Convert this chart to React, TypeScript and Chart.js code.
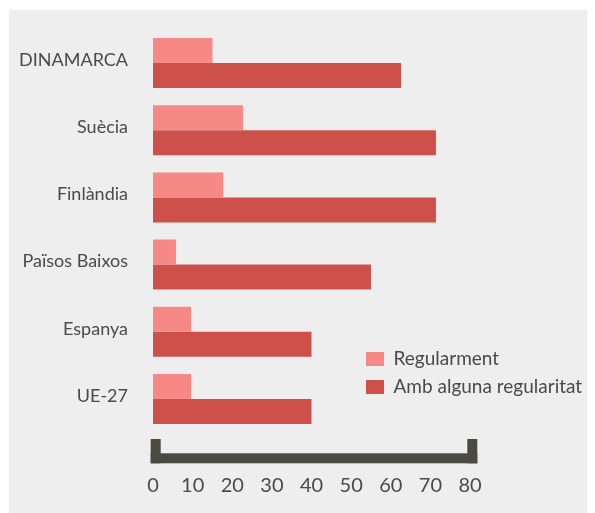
import React, { useEffect, useRef } from "react";
import { Chart, registerables } from "chart.js";

Chart.register(...registerables);

const categories = ["DINAMARCA", "Suècia", "Finlàndia", "Països Baixos", "Espanya", "UE-27"];
const regularment = [15, 22.7, 17.7, 5.8, 9.6, 9.6];
const ambAlgunaRegularitat = [62.6, 71.4, 71.4, 55, 40, 40];
const xTicks = [0, 10, 20, 30, 40, 50, 60, 70, 80];
const seriesNames = ["Regularment", "Amb alguna regularitat"];

const FONT = "Lato, 'Open Sans', sans-serif";
const TEXT = "#4a4a4a";

const bgPlugin = {
  id: "bgPanel",
  beforeDraw(chart: any) {
    const { ctx, width, height } = chart;
    ctx.save();
    ctx.fillStyle = "#eeeeee";
    ctx.fillRect(1, 2, width - 1, height - 2);
    ctx.restore();
  },
};

const legendPlace = {
  id: "legendPlace",
  afterLayout(chart: any) {
    const lg = chart.legend;
    if (!lg) return;
    lg.left = 349;
    lg.top = 332.5;
    lg.right = lg.left + 240;
    lg.bottom = lg.top + 200;
  },
};

const bracketPlugin = {
  id: "bracket",
  afterDraw(chart: any) {
    const { ctx } = chart;
    const xs = chart.scales.x;
    const x0 = xs.getPixelForValue(xTicks[0]);
    const x1 = xs.getPixelForValue(xTicks[xTicks.length - 1]);
    const left = x0 - 2.3;
    const right = x1 + 7.3;
    const yb = 455.3;
    ctx.save();
    ctx.fillStyle = "#4b4a42";
    ctx.fillRect(left, yb - 10, right - left, 10);
    ctx.fillRect(left, yb - 24.3, 10, 24.3);
    ctx.fillRect(right - 10, yb - 24.3, 10, 24.3);
    ctx.restore();
  },
};

export default function App() {
  const ref = useRef<HTMLCanvasElement | null>(null);
  useEffect(() => {
    if (!ref.current) return;
    const chart = new Chart(ref.current, {
      type: "bar",
      data: {
        labels: categories,
        datasets: [
          {
            label: seriesNames[0],
            data: regularment,
            backgroundColor: "#f68886",
            borderWidth: 0,
            categoryPercentage: 0.744,
            barPercentage: 1,
          },
          {
            label: seriesNames[1],
            data: ambAlgunaRegularitat,
            backgroundColor: "#cd514a",
            borderWidth: 0,
            categoryPercentage: 0.744,
            barPercentage: 1,
          },
        ],
      },
      options: {
        indexAxis: "y",
        animation: false,
        responsive: false,
        maintainAspectRatio: false,
        layout: { padding: { left: 0, right: 125, top: 21.4, bottom: 0 } },
        plugins: {
          legend: {
            position: "chartArea" as any,
            fullSize: false,
            align: "start",
            labels: {
              boxWidth: 18,
              boxHeight: 14,
              padding: 9,
              color: TEXT,
              font: { family: FONT, size: 19 },
            },
          },
          tooltip: { enabled: false },
        },
        scales: {
          x: {
            min: 0,
            max: 80,
            afterBuildTicks(scale: any) {
              scale.ticks = xTicks.map((v) => ({ value: v }));
            },
            afterFit(scale: any) {
              scale.height = 80.4;
              scale.paddingLeft = 0;
              scale.paddingRight = 0;
            },
            grid: { display: false, drawTicks: false },
            border: { display: false },
            ticks: {
              padding: 41,
              color: TEXT,
              font: { family: FONT, size: 20 },
              maxRotation: 0,
              autoSkip: false,
            },
          },
          y: {
            afterFit(scale: any) {
              scale.width = 145;
              scale.paddingTop = 0;
              scale.paddingBottom = 0;
            },
            grid: { display: false, drawTicks: false },
            border: { display: false },
            ticks: {
              padding: 25,
              color: TEXT,
              font: { family: FONT, size: 18 },
              labelOffset: -3,
            },
          },
        },
      },
      plugins: [bgPlugin, legendPlace, bracketPlugin],
    });
    return () => chart.destroy();
  }, []);
  return <canvas ref={ref} width={587} height={505} style={{ display: "block" }} />;
}
